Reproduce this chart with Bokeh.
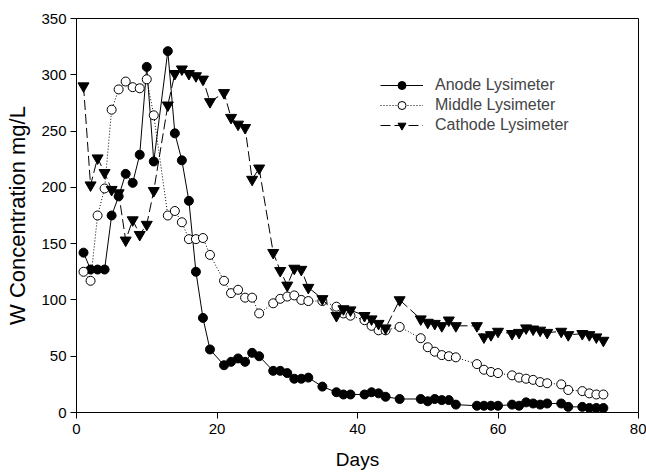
from bokeh.plotting import figure
from bokeh.models import Legend, LegendItem, FixedTicker, Range1d
from bokeh.embed import file_html
from bokeh.resources import INLINE

# ---- data ----
anode_days = [1, 2, 3, 4, 5, 6, 7, 8, 9, 10, 11, 13, 14, 15, 16, 17, 18, 19, 21, 22, 23, 24, 25, 26,
              28, 29, 30, 31, 32, 33, 35, 37, 38, 39, 41, 42, 43, 44, 46, 49, 50, 51, 52, 53, 54,
              57, 58, 59, 60, 62, 63, 64, 65, 66, 67, 69, 70, 72, 73, 74, 75]
anode_vals = [142, 127, 127, 127, 175, 192, 212, 204, 229, 307, 223, 321, 248, 224, 188, 125, 84, 56,
              42, 45, 48, 45, 53, 50, 37, 37, 35, 30, 30, 31, 23, 18, 16, 16, 16, 18, 17, 14, 12,
              12, 10, 12, 11, 11, 7, 6, 6, 6, 6, 7, 6, 9, 8, 7, 8, 8, 5, 5, 4, 4, 4]

middle_days = anode_days
middle_vals = [125, 117, 175, 199, 269, 287, 294, 289, 288, 296, 264, 175, 179, 169, 154, 154, 155, 140,
               117, 106, 109, 102, 102, 88, 97, 101, 103, 104, 100, 99, 99, 94, 88, 86, 82, 77, 73,
               73, 76, 66, 58, 54, 51, 50, 49, 43, 38, 36, 35, 33, 31, 30, 29, 27, 26, 25, 20, 19,
               17, 16, 16]

cathode_days = anode_days
cathode_vals = [290, 202, 226, 213, 198, 195, 153, 171, 158, 167, 197, 273, 301, 305, 301, 299, 296, 276,
                284, 262, 256, 253, 207, 217, 142, 126, 113, 128, 127, 111, 101, 86, 92, 91, 86, 83,
                79, 75, 100, 83, 80, 79, 77, 82, 77, 77, 67, 69, 72, 70, 71, 75, 74, 73, 71, 72, 69,
                70, 69, 67, 64]

x_ticks = [0, 20, 40, 60, 80]
y_ticks = [0, 50, 100, 150, 200, 250, 300, 350]

FONT = "Liberation Sans"

p = figure(width=646, height=474, x_range=Range1d(0, 80), y_range=Range1d(0, 350),
           output_backend="svg", toolbar_location=None,
           min_border_left=76, min_border_right=8, min_border_top=18, min_border_bottom=62)
p.background_fill_color = "white"
p.border_fill_color = "white"
p.outline_line_color = "black"
p.outline_line_width = 1
p.xgrid.visible = False
p.ygrid.visible = False

p.xaxis.ticker = FixedTicker(ticks=x_ticks)
p.yaxis.ticker = FixedTicker(ticks=y_ticks)
for ax in (p.xaxis[0], p.yaxis[0]):
    ax.axis_line_color = "black"
    ax.major_tick_line_color = "black"
    ax.minor_tick_line_color = None
    ax.major_tick_in = 0
    ax.major_tick_out = 6
    ax.major_label_text_font = FONT
    ax.major_label_text_font_size = "15px"
    ax.major_label_text_color = "black"
    ax.axis_label_text_font = FONT
    ax.axis_label_text_font_style = "normal"
    ax.axis_label_text_color = "black"
p.xaxis.axis_label = "Days"
p.xaxis.axis_label_text_font_size = "19px"
p.xaxis.major_label_standoff = 5
p.xaxis.axis_label_standoff = 12
p.yaxis.axis_label = "W Concentration mg/L"
p.yaxis.axis_label_text_font_size = "22px"
p.yaxis.major_label_standoff = 4
p.yaxis.axis_label_standoff = 8

la = p.line(anode_days, anode_vals, line_color="black", line_width=1)
ma = p.scatter(anode_days, anode_vals, marker="circle", size=9,
               fill_color="black", line_color="black")
lm = p.line(middle_days, middle_vals, line_color="black", line_width=1, line_dash="1 2")
mm = p.scatter(middle_days, middle_vals, marker="circle", size=9,
               fill_color="white", line_color="black", line_width=1)
lc = p.line(cathode_days, cathode_vals, line_color="black", line_width=1, line_dash="10 4")
mc = p.scatter(cathode_days, cathode_vals, marker="inverted_triangle", size=11,
               fill_color="black", line_color="black")

legend = Legend(items=[
    LegendItem(label="Anode Lysimeter", renderers=[la, ma]),
    LegendItem(label="Middle Lysimeter", renderers=[lm, mm]),
    LegendItem(label="Cathode Lysimeter", renderers=[lc, mc]),
], location=(304, 277), border_line_color=None, background_fill_alpha=0,
    label_text_font=FONT, label_text_font_size="16px", glyph_width=43, glyph_height=20,
    label_height=20, label_standoff=12, spacing=0, padding=0, margin=0)
p.add_layout(legend)

open("out.html", "w").write(file_html(p, INLINE))
